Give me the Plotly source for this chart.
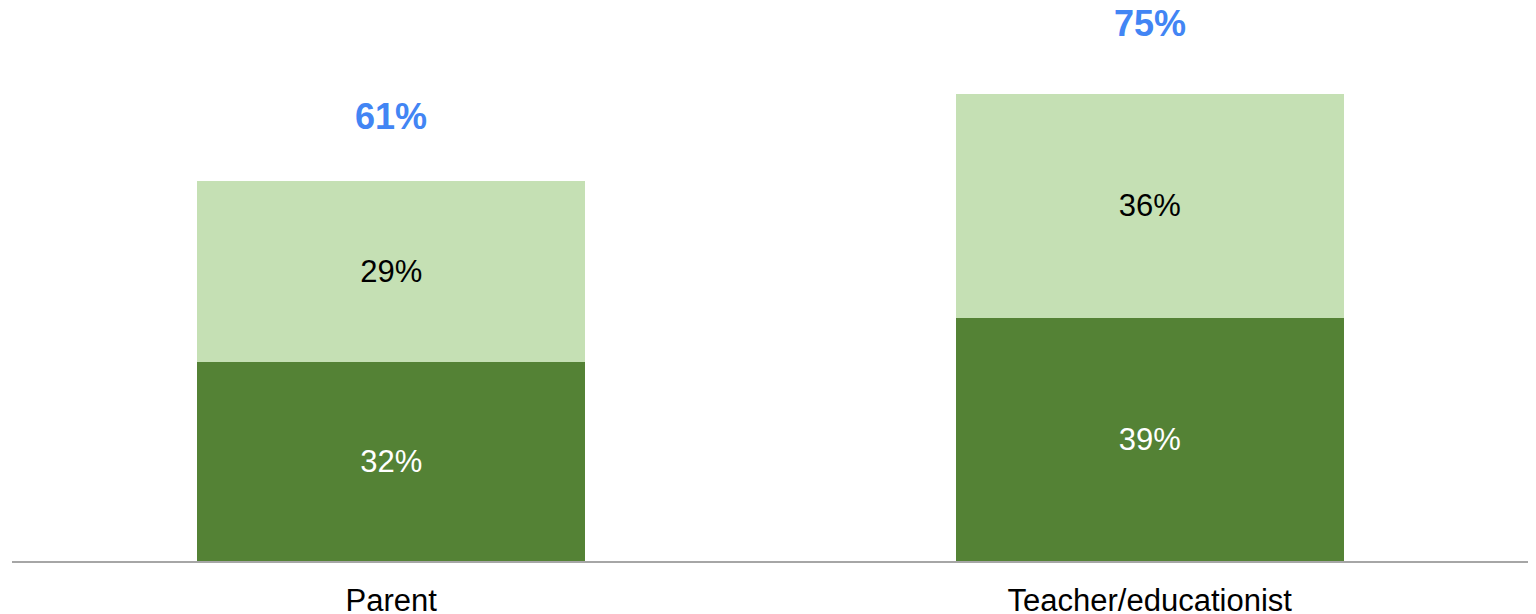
import plotly.graph_objects as go

categories = ["Parent", "Teacher/educationist"]
dark_values = [32, 39]
light_values = [29, 36]
totals = [61, 75]

DARK = "#548235"
LIGHT = "#C5E0B4"
BLUE = "#4285F4"
FONT = "Liberation Sans, Arial, sans-serif"

fig = go.Figure()
fig.add_trace(go.Bar(
    x=categories, y=dark_values, marker_color=DARK, marker_line_width=0,
    text=[f"{v}%" for v in dark_values], textposition="inside",
    insidetextanchor="middle", textangle=0,
    textfont=dict(color="white", size=31, family=FONT),
    constraintext="none", hoverinfo="skip",
))
fig.add_trace(go.Bar(
    x=categories, y=light_values, marker_color=LIGHT, marker_line_width=0,
    text=[f"{v}%" for v in light_values], textposition="inside",
    insidetextanchor="middle", textangle=0,
    textfont=dict(color="black", size=31, family=FONT),
    constraintext="none", hoverinfo="skip",
))

shifts = [64, 70]
for c, t, s in zip(categories, totals, shifts):
    fig.add_annotation(x=c, y=t, text=f"<b>{t}%</b>", showarrow=False,
                       yanchor="middle", yshift=s,
                       font=dict(color=BLUE, size=36, family=FONT))

fig.update_layout(
    width=1528, height=606,
    barmode="stack", bargap=0.489,
    showlegend=False,
    plot_bgcolor="white", paper_bgcolor="white",
    margin=dict(l=3.5, r=6.5, t=2, b=53, autoexpand=False),
    font=dict(family=FONT),
)
fig.update_xaxes(
    showline=True, linecolor="#A6A6A6", linewidth=1.5,
    ticks="", showgrid=False, ticklabelstandoff=11,
    tickfont=dict(size=31, color="black", family=FONT),
    range=[-0.5, 1.5],
)
fig.update_yaxes(
    visible=False, range=[0, 88.44], showgrid=False, zeroline=False,
)

fig.write_html("out.html")
